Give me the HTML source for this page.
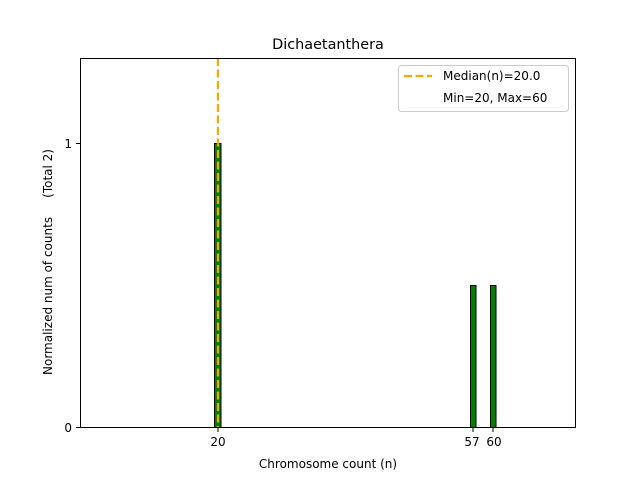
<!DOCTYPE html><html><head><style>body{margin:0;background:#fff}</style></head><body>
<svg width="640" height="480" xmlns="http://www.w3.org/2000/svg" font-family="DejaVu Sans, sans-serif">
<rect width="640" height="480" fill="#fff"/>
<rect x="214.5" y="143.5" width="6.5" height="284" fill="#008000" stroke="#000" stroke-width="1"/>
<rect x="470.5" y="285.5" width="5.5" height="142" fill="#008000" stroke="#000" stroke-width="1"/>
<rect x="490.5" y="285.5" width="5.5" height="142" fill="#008000" stroke="#000" stroke-width="1"/>
<line x1="218" y1="58" x2="218" y2="427" stroke="#ffa500" stroke-width="2.2" stroke-dasharray="8,3.5"/>
<rect x="80.5" y="58.5" width="495" height="369" fill="none" stroke="#000" stroke-width="1"/>
<g stroke="#000"><line x1="76" y1="143.5" x2="80" y2="143.5"/><line x1="76" y1="427.5" x2="80" y2="427.5"/>
<line x1="218" y1="428" x2="218" y2="432"/><line x1="473" y1="428" x2="473" y2="432"/><line x1="493" y1="428" x2="493" y2="432"/></g>
<g font-size="12" fill="#000">
<text x="72" y="148" text-anchor="end">1</text><text x="72" y="432" text-anchor="end">0</text>
<text x="218" y="446" text-anchor="middle">20</text><text x="472" y="446" text-anchor="middle">57</text><text x="494" y="446" text-anchor="middle">60</text>
<text x="328" y="468" text-anchor="middle">Chromosome count (n)</text>
<text transform="translate(52,262) rotate(-90)" text-anchor="middle" xml:space="preserve" style="white-space:pre">Normalized num of counts     (Total 2)</text>
<text x="328" y="49" text-anchor="middle" font-size="14.4">Dichaetanthera</text>
</g>
<rect x="398.5" y="65.5" width="170" height="46" rx="3" fill="#fff" fill-opacity="0.8" stroke="#ccc"/>
<line x1="404" y1="76" x2="432" y2="76" stroke="#ffa500" stroke-width="2.2" stroke-dasharray="8,3.5"/>
<text x="443" y="80" font-size="12">Median(n)=20.0</text>
<text x="443" y="102" font-size="12">Min=20, Max=60</text>
</svg></body></html>
